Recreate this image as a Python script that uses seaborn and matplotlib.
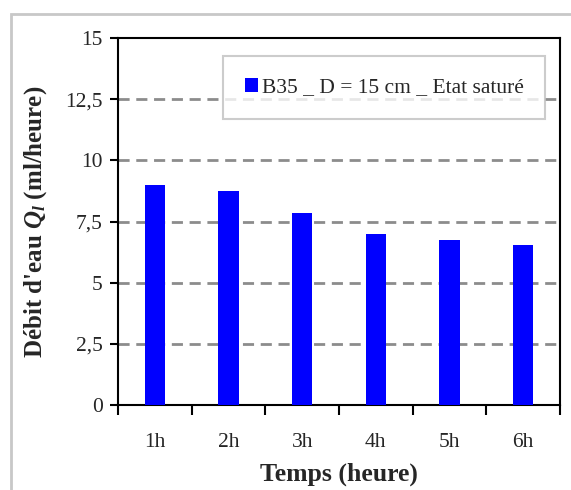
import matplotlib
matplotlib.use("Agg")
import matplotlib.pyplot as plt
from matplotlib.patches import Rectangle
import seaborn as sns
import pandas as pd

# Flow rate per hour for sample B35 (D = 15 cm, saturated state)
heures = ["1h", "2h", "3h", "4h", "5h", "6h"]
debit = [9.0, 8.75, 7.85, 7.0, 6.75, 6.55]
yticks = [0, 2.5, 5, 7.5, 10, 12.5, 15]
ytick_labels = ["0", "2,5", "5", "7,5", "10", "12,5", "15"]
serie = "B35 _ D = 15 cm _ Etat saturé"

df = pd.DataFrame({"Temps": heures, "Debit": debit, "Serie": serie})

sns.set_theme(style="white")
plt.rcParams["font.family"] = ["Liberation Serif", "DejaVu Serif"]
plt.rcParams["mathtext.fontset"] = "custom"
plt.rcParams["mathtext.it"] = "Liberation Serif:italic:bold"
plt.rcParams["mathtext.rm"] = "Liberation Serif:bold"

fig = plt.figure(figsize=(5.71, 4.90), dpi=100)
ax = fig.add_axes([118 / 571, 1 - 405 / 490, (560 - 118) / 571, (405 - 38) / 490])

# Light grey outer frame of the chart area
fig.patches.append(Rectangle((11 / 571, -0.1), 1.2, 1.1 - 14 / 490,
                             transform=fig.transFigure, fill=False,
                             edgecolor="#c8c8c8", linewidth=2, zorder=0))

sns.barplot(data=df, x="Temps", y="Debit", hue="Serie", palette=["#0000ff"],
            width=0.28, ax=ax, zorder=3, saturation=1, linewidth=0)

ax.set_ylim(0, 15)
ax.set_xlim(-0.5, len(heures) - 0.5)
ax.set_yticks(yticks)
ax.set_yticklabels(ytick_labels, fontsize=15.5)
ax.set_xticks(range(len(heures)))
ax.set_xticklabels(heures, fontsize=15.5)
ax.tick_params(axis="x", length=0, pad=20)
ax.tick_params(axis="y", direction="out", length=6, width=1.5, color="black", left=True, pad=5)

# Category boundary ticks on the x axis
ax.set_xticks([i - 0.5 for i in range(len(heures) + 1)], minor=True)
ax.tick_params(axis="x", which="minor", direction="out", length=7, width=1.5,
               color="black", bottom=True)

for v in yticks[1:-1]:
    ax.axhline(v, color="#8c8c8c", linestyle=(0, (4, 2.4)), linewidth=2, zorder=1)

for s in ax.spines.values():
    s.set_visible(True)
    s.set_color("black")
    s.set_linewidth(1.5)

ax.set_xlabel("Temps (heure)", fontsize=18.5, fontweight="bold", labelpad=8)
ax.set_ylabel(r"Débit d'eau $Q_l$ (ml/heure)", fontsize=18, fontweight="bold", labelpad=12)

leg = ax.legend(loc="upper right", bbox_to_anchor=(0.967, 0.95), fontsize=15.5,
                frameon=True, fancybox=False, edgecolor="#c0c0c0",
                handlelength=0.6, handleheight=0.6, handletextpad=0.2,
                borderpad=1.0, borderaxespad=0)
leg.get_frame().set_linewidth(1.5)
leg.set_zorder(5)

fig.savefig("out.png", dpi=100)
